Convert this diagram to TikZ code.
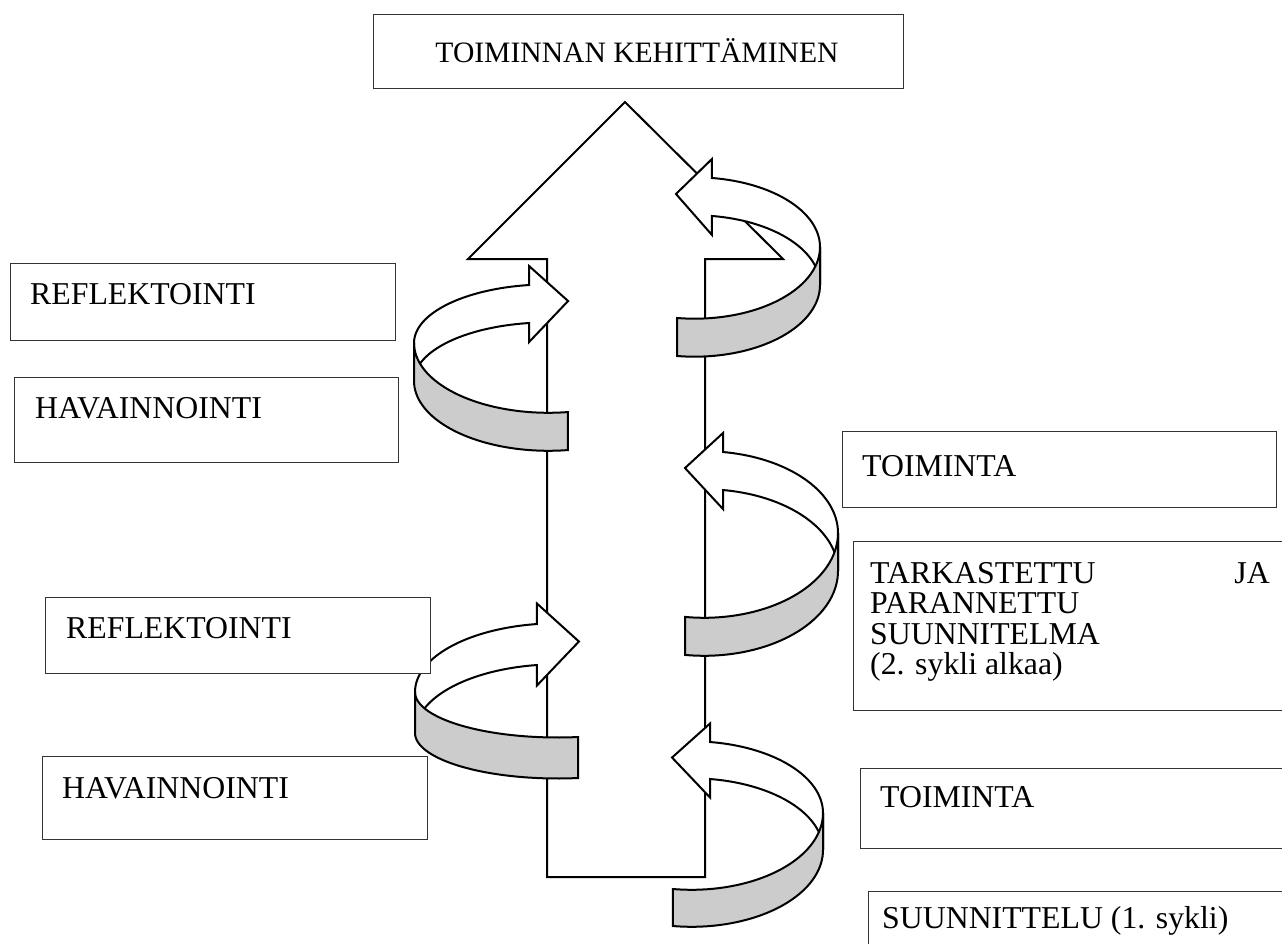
\documentclass[tikz,border=0pt]{standalone}
\usepackage{fontspec}
\setmainfont{Liberation Serif}
\definecolor{bandgray}{RGB}{204,204,204}
\tikzset{
  boxshape/.style={draw=black!80, line width=1.3pt, fill=white, inner sep=0pt, anchor=north west},
  lbl/.style={inner sep=0pt, font=\fontsize{31.8}{36}\selectfont},
  titlelbl/.style={inner sep=0pt, font=\fontsize{29.6}{34}\selectfont},
  shapeline/.style={draw=black, line width=2pt, line join=miter},
}
% #1 side (+1 body right, arrow points left; -1 mirrored), #2 cx, #3 cy, #4 a,
% #5 upper half-height, #6 lower half-height, #7 thickness, #8 neck angle, #9 head length
\newcommand\mkribbon[9]{%
  \pgfmathsetmacro\nox{#2+#1*#4*cos(#8)}%
  \pgfmathsetmacro\noy{#3-#5*sin(#8)}%
  \pgfmathsetmacro\niy{\noy+#7}%
  \pgfmathsetmacro\bay{\noy-#7/2}%
  \pgfmathsetmacro\bby{\niy+#7/2}%
  \pgfmathsetmacro\tx{\nox-#1*#9}%
  \pgfmathsetmacro\ty{\noy+#7/2-3}%
  \pgfmathsetmacro\rx{#2+#1*#4}%
  \pgfmathsetmacro\ry{#3+#7}%
  \pgfmathsetmacro\thl{180-#8}%
  \path[shapeline, fill=white] (\tx,\ty) -- (\nox,\bay) -- (\nox,\noy)
    -- plot[domain=#8:0, samples=40, variable=\q] ({#2+#1*#4*cos(\q)},{#3-#5*sin(\q)})
    -- (\rx,\ry)
    -- plot[domain=0:#8, samples=40, variable=\q] ({#2+#1*#4*cos(\q)},{#3+#7-#5*sin(\q)})
    -- (\nox,\bby) -- cycle;
  \path[shapeline, fill=bandgray]
    plot[domain=0:\thl, samples=40, variable=\q] ({#2+#1*#4*cos(\q)},{#3+#6*sin(\q)})
    -- plot[domain=\thl:0, samples=40, variable=\q] ({#2+#1*#4*cos(\q)},{#3+#7+#6*sin(\q)})
    -- cycle;
}
\begin{document}
\begin{tikzpicture}[x=1pt,y=-1pt]
\useasboundingbox (0,0) rectangle (1282,944);
\clip (0,0) rectangle (1282,944);
\fill[white] (0,0) rectangle (1282,944);

% big upward arrow
\draw[shapeline, fill=white] (625,102) -- (783,259) -- (705,259) -- (705,877)
  -- (547,877) -- (547,259) -- (468,259) -- cycle;

% curved arrows
\mkribbon{1}{694.5}{247}{125.5}{69.7}{71.7}{38}{82}{36}
\mkribbon{1}{704}{533}{134}{81.8}{84.8}{38}{81.85}{38}
\mkribbon{1}{691.5}{813}{131.5}{71.7}{76.8}{37}{81.9}{38}
\mkribbon{-1}{548.5}{343}{134.5}{58.6}{69.8}{38}{81.7}{39}
\mkribbon{-1}{557.5}{692}{142.5}{68.7}{45.5}{41}{81.7}{42}

% boxes
\node[boxshape, minimum width=530pt, minimum height=74pt] (btitle) at (373,14) {};
\node[boxshape, minimum width=385pt, minimum height=77pt] (brefa) at (10,263) {};
\node[boxshape, minimum width=384pt, minimum height=85pt] (bhava) at (14,377) {};
\node[boxshape, minimum width=434pt, minimum height=76pt] (btoia) at (842,431) {};
\node[boxshape, minimum width=460pt, minimum height=169pt] (btark) at (853,541) {};
\node[boxshape, minimum width=385pt, minimum height=76pt] (brefb) at (45,597) {};
\node[boxshape, minimum width=385pt, minimum height=83pt] (bhavb) at (42,756) {};
\node[boxshape, minimum width=440pt, minimum height=80pt] (btoib) at (860,768) {};
\node[boxshape, minimum width=440pt, minimum height=80pt] (bsuun) at (868,891) {};

% texts
\node[titlelbl, anchor=base] (ttitle) at (637,63) {TOIMINNAN KEHITTÄMINEN};
\node[lbl, anchor=base west] (trefa) at (30,304) {REFLEKTOINTI};
\node[lbl, anchor=base west] (thava) at (35,418) {HAVAINNOINTI};
\node[lbl, anchor=base west] (ttoia) at (862,476) {TOIMINTA};
\node[lbl, anchor=base west] (ttark1) at (870,583) {TARKASTETTU};
\node[lbl, anchor=base east] (tja) at (1270,583) {JA};
\node[lbl, anchor=base west] (ttark2) at (870,613) {PARANNETTU};
\node[lbl, anchor=base west] (ttark3) at (870,644) {SUUNNITELMA};
\node[lbl, anchor=base west] (ttark4) at (870,674) {(2. sykli alkaa)};
\node[lbl, anchor=base west] (trefb) at (66,638) {REFLEKTOINTI};
\node[lbl, anchor=base west] (thavb) at (62,798) {HAVAINNOINTI};
\node[lbl, anchor=base west] (ttoib) at (880,807) {TOIMINTA};
\node[lbl, anchor=base west] (tsuun) at (882,928) {SUUNNITTELU (1. sykli)};
\end{tikzpicture}
\end{document}
